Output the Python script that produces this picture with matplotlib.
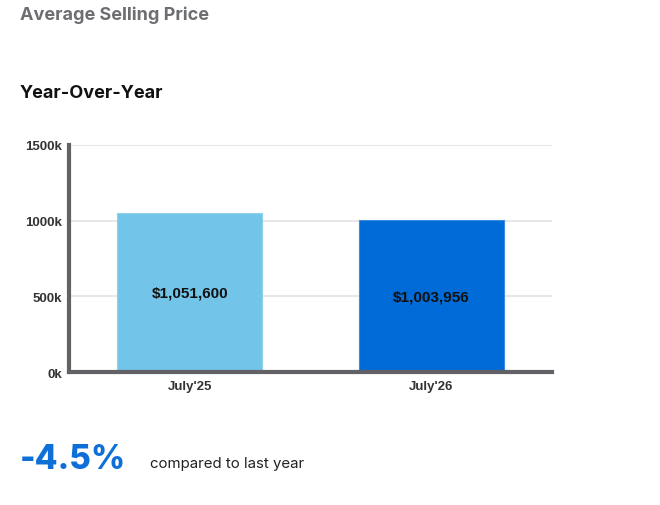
import matplotlib
matplotlib.use("Agg")
import matplotlib.pyplot as plt

categories = ["July'25", "July'26"]
values = [1051600, 1003956]
value_labels = ["$1,051,600", "$1,003,956"]
bar_colors = ["#72c4e8", "#006bd6"]
yticks = [0, 500000, 1000000, 1500000]
ytick_labels = ["0k", "500k", "1000k", "1500k"]
change_text = "-4.5%"

plt.rcParams['font.family'] = ['Liberation Sans', 'DejaVu Sans']

fig = plt.figure(figsize=(6.6, 5.06), dpi=100)
ax = fig.add_axes([69/660, 133/506, 483/660, 227/506])

x = list(range(len(categories)))
ax.bar(x, values, width=0.6, color=bar_colors, edgecolor=["#8fd2ee", "#3a8ae0"], linewidth=0.8, zorder=2)
for xi, v, lab in zip(x, values, value_labels):
    ax.text(xi, v / 2, lab, ha='center', va='center', fontsize=11, fontweight='bold', color='#111111', zorder=3)

ax.set_xlim(-0.5, 1.5)
ax.set_ylim(0, 1500000)
ax.set_yticks(yticks)
ax.set_yticklabels(ytick_labels)
ax.set_xticks(x)
ax.set_xticklabels(categories)
ax.tick_params(axis='both', length=0, labelsize=9.5, colors='#333333', pad=6)
for lab in ax.get_xticklabels() + ax.get_yticklabels():
    lab.set_fontweight('bold')
ax.tick_params(axis='y', pad=5)
ax.grid(axis='y', color='#e3e3e3', linewidth=1.2, zorder=0)
ax.set_axisbelow(True)
for s in ['top', 'right']:
    ax.spines[s].set_visible(False)
ax.spines['left'].set_color('#616166')
ax.spines['left'].set_linewidth(3)
ax.spines['bottom'].set_color('#616166')
ax.spines['bottom'].set_linewidth(3)

fam = ['Inter', 'DejaVu Sans']
fig.text(20/660, 1 - 15/506, "Average Selling Price", fontsize=13, fontweight='bold',
         color='#6d6e72', va='center', ha='left', family=fam)
fig.text(20/660, 1 - 93/506, "Year-Over-Year", fontsize=13, fontweight='bold',
         color='#111111', va='center', ha='left', family=fam)
fig.text(20/660, 1 - 460/506, change_text, fontsize=24, fontweight='heavy',
         color='#0f6fd8', va='center', ha='left', family=fam)
fig.text(150/660, 1 - 464/506, "compared to last year", fontsize=10.8,
         color='#222222', va='center', ha='left', family=fam)

fig.savefig("out.png", dpi=100, facecolor='white')
